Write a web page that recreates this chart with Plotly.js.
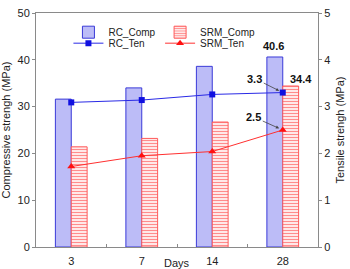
<!DOCTYPE html>
<html><head><meta charset="utf-8">
<script src="https://cdn.plot.ly/plotly-3.0.1.min.js"></script>
<style>html,body{margin:0;padding:0;background:#fff}#c{width:350px;height:269px}</style>
</head><body><div id="c"></div>
<script>
const days = ['3','7','14','28'];
const rcComp = [31.6, 34.0, 38.6, 40.6];
const srmComp = [21.4, 23.2, 26.7, 34.4];
const rcTen = [3.09, 3.14, 3.26, 3.3];
const srmTen = [1.72, 1.95, 2.04, 2.5];

const F = 'Liberation Sans, Arial, sans-serif';
const traces = [
  {type:'bar', name:'RC_Comp', x:days, y:rcComp, legend:'legend',
   marker:{color:'#bcbcf7', line:{color:'#3a3ad8', width:1}}},
  {type:'bar', name:'SRM_Comp', x:days, y:srmComp, legend:'legend2',
   marker:{color:'#ffe4e4', line:{color:'#ff5a5a', width:1},
     pattern:{shape:'-', fgcolor:'#ff8c8c', bgcolor:'#ffe8e8', size:3, solidity:0.35}}},
  {type:'scatter', mode:'lines+markers', name:'RC_Ten', x:days, y:rcTen, yaxis:'y2', legend:'legend3',
   line:{color:'#2a2ae6', width:1}, marker:{symbol:'square', size:6, color:'#1010e0'}},
  {type:'scatter', mode:'lines+markers', name:'SRM_Ten', x:days, y:srmTen, yaxis:'y2', legend:'legend4',
   line:{color:'#ff3030', width:1}, marker:{symbol:'triangle-up', size:7, color:'#ff1010'}}
];
const ax = {linecolor:'#8a8a8a', linewidth:1, mirror:true, showgrid:false, zeroline:false,
  tickfont:{family:F, size:11, color:'#222'}, ticks:'outside', ticklen:3, tickcolor:'#8a8a8a'};
function lg(x, y){ return {x:x, y:y, xanchor:'left', yanchor:'middle', bgcolor:'rgba(0,0,0,0)',
  font:{family:F, size:10, color:'#222'}, itemwidth:30, borderwidth:0}; }
const layout = {
  width:350, height:269, margin:{l:36, r:32, t:13, b:22},
  paper_bgcolor:'#fff', plot_bgcolor:'#fff',
  font:{family:F, size:11, color:'#222'},
  barmode:'group', bargap:0.55, bargroupgap:0,
  showlegend:true,
  xaxis:Object.assign({}, ax, {type:'category', range:[-0.5,3.5], ticks:'inside', tickson:'boundaries', ticklen:3,
    ticklabelstandoff:4}),
  yaxis:Object.assign({}, ax, {range:[0,50], dtick:10,
    title:{text:'Compressive strengh (MPa)', font:{family:F, size:11, color:'#222'}, standoff:6}}),
  yaxis2:Object.assign({}, ax, {range:[0,5], dtick:1, overlaying:'y', side:'right', mirror:false,
    title:{text:'Tensile strengh (MPa)', font:{family:F, size:11, color:'#222'}, standoff:6}}),
  legend:lg(0.115, 0.918),
  legend2:lg(0.44, 0.918),
  legend3:lg(0.115, 0.871),
  legend4:lg(0.44, 0.871),
  annotations:[
    {x:0.5, y:0, xref:'paper', yref:'paper', text:'Days', showarrow:false, yanchor:'top', yshift:-8, font:{family:F, size:11, color:'#222'}},
    {x:3, y:rcComp[3], xref:'x', yref:'y', text:'<b>40.6</b>', showarrow:false, xshift:-9, yshift:11, font:{family:F, size:11, color:'#111'}},
    {x:3, y:srmComp[3], xref:'x', yref:'y', text:'<b>34.4</b>', showarrow:false, xshift:18, yshift:7, font:{family:F, size:11, color:'#111'}},
    {x:3, y:rcTen[3], xref:'x', yref:'y2', text:'<b>3.3</b>', showarrow:true, ax:-28, ay:-14, arrowhead:2, arrowsize:0.8, arrowwidth:0.8, arrowcolor:'#444', standoff:4, font:{family:F, size:11, color:'#111'}},
    {x:3, y:srmTen[3], xref:'x', yref:'y2', text:'<b>2.5</b>', showarrow:true, ax:-29, ay:-13, arrowhead:2, arrowsize:0.8, arrowwidth:0.8, arrowcolor:'#444', standoff:4, font:{family:F, size:11, color:'#111'}}
  ]
};
Plotly.newPlot('c', traces, layout, {displayModeBar:false, staticPlot:true});
</script></body></html>
